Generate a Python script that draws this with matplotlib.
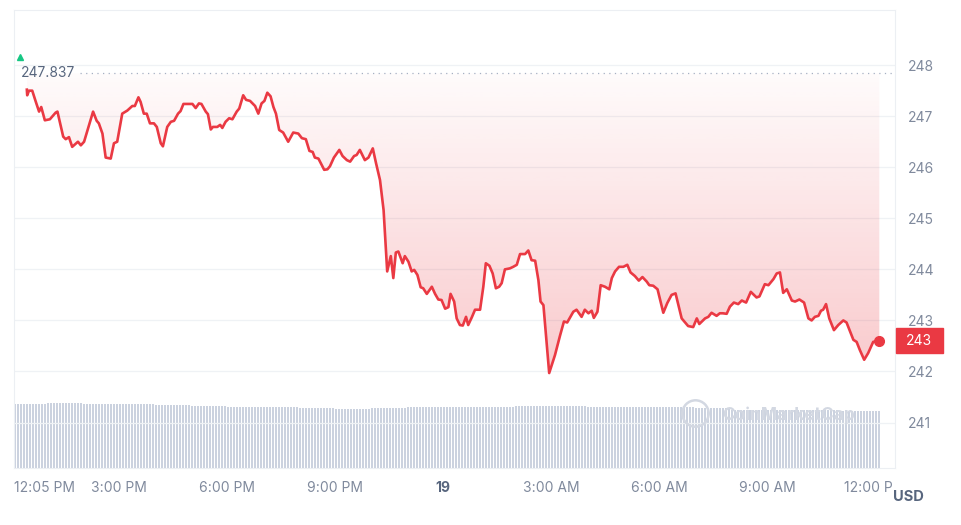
import numpy as np
import matplotlib
matplotlib.use("Agg")
import matplotlib.pyplot as plt
from matplotlib.colors import to_rgb
from matplotlib.patches import Rectangle
from matplotlib.transforms import Bbox, TransformedBbox, blended_transform_factory

plt.rcParams['font.family'] = ['Inter', 'DejaVu Sans']

# hours since 12:00 PM of day 18
hours = [0.44, 0.45, 0.50, 0.59, 0.69, 0.78, 0.84, 0.94, 1.08, 1.24, 1.29, 1.45, 1.52, 1.61, 1.70, 1.86, 1.94, 2.03,
         2.28, 2.38, 2.44, 2.54, 2.63, 2.77, 2.86, 2.95, 3.09, 3.23, 3.37, 3.44, 3.54, 3.60, 3.69, 3.77, 3.86, 3.97,
         4.05, 4.16, 4.22, 4.34, 4.44, 4.53, 4.64, 4.71, 4.79, 4.94, 5.04, 5.13, 5.22, 5.29, 5.41, 5.47, 5.55, 5.61,
         5.73, 5.81, 5.87, 5.96, 6.06, 6.15, 6.27, 6.34, 6.45, 6.53, 6.64, 6.78, 6.87, 6.96, 7.04, 7.12, 7.21, 7.29,
         7.36, 7.45, 7.56, 7.70, 7.84, 7.98, 8.08, 8.19, 8.29, 8.38, 8.44, 8.54, 8.70, 8.79, 8.86, 8.97, 9.12, 9.21,
         9.33, 9.42, 9.53, 9.60, 9.69, 9.83, 9.93, 10.05, 10.14, 10.25, 10.35, 10.45, 10.55, 10.62, 10.69, 10.76,
         10.88, 10.94, 11.04, 11.13, 11.20, 11.29, 11.38, 11.45, 11.55, 11.69, 11.78, 11.87, 11.96, 12.06, 12.15,
         12.21, 12.31, 12.38, 12.47, 12.55, 12.64, 12.70, 12.80, 12.89, 13.03, 13.12, 13.19, 13.29, 13.38, 13.47,
         13.56, 13.63, 13.72, 13.86, 13.95, 14.05, 14.14, 14.28, 14.37, 14.46, 14.56, 14.65, 14.71, 14.79, 14.85,
         14.95, 15.11, 15.25, 15.36, 15.45, 15.62, 15.71, 15.85, 15.94, 16.04, 16.13, 16.19, 16.29, 16.38, 16.50,
         16.62, 16.69, 16.78, 16.89, 17.01, 17.12, 17.21, 17.33, 17.44, 17.54, 17.66, 17.73, 17.84, 17.96, 18.12,
         18.23, 18.35, 18.46, 18.63, 18.81, 18.95, 19.05, 19.12, 19.28, 19.37, 19.46, 19.60, 19.69, 19.77, 19.88,
         19.97, 20.08, 20.20, 20.30, 20.42, 20.55, 20.71, 20.79, 20.94, 21.04, 21.18, 21.27, 21.36, 21.45, 21.55,
         21.69, 21.78, 21.90, 22.03, 22.15, 22.24, 22.33, 22.43, 22.50, 22.56, 22.64, 22.73, 22.86, 22.98, 23.12,
         23.21, 23.40, 23.49, 23.58, 23.70, 23.81, 23.95, 24.12]

price = [247.52, 247.41, 247.50, 247.50, 247.28, 247.09, 247.18, 246.92, 246.94, 247.07, 247.09, 246.60, 246.55,
         246.59, 246.40, 246.50, 246.43, 246.50, 247.09, 246.91, 246.86, 246.66, 246.19, 246.17, 246.47, 246.50,
         247.05, 247.11, 247.20, 247.20, 247.37, 247.28, 247.05, 247.05, 246.86, 246.86, 246.79, 246.47, 246.41,
         246.79, 246.89, 246.91, 247.05, 247.10, 247.24, 247.24, 247.24, 247.16, 247.25, 247.24, 247.09, 247.04,
         246.74, 246.79, 246.79, 246.83, 246.77, 246.89, 246.96, 246.94, 247.09, 247.15, 247.41, 247.32, 247.30,
         247.20, 247.05, 247.25, 247.30, 247.46, 247.39, 247.18, 247.05, 246.73, 246.68, 246.50, 246.68, 246.66,
         246.57, 246.55, 246.32, 246.30, 246.19, 246.17, 245.95, 245.96, 246.02, 246.19, 246.34, 246.22, 246.14,
         246.11, 246.22, 246.24, 246.34, 246.14, 246.19, 246.37, 246.08, 245.75, 245.16, 243.96, 244.26, 243.83,
         244.33, 244.35, 244.12, 244.26, 244.15, 243.96, 243.99, 243.89, 243.65, 243.63, 243.52, 243.66, 243.52,
         243.41, 243.40, 243.23, 243.26, 243.52, 243.37, 243.04, 242.91, 242.90, 243.07, 242.91, 243.06, 243.21,
         243.21, 243.66, 244.12, 244.07, 243.92, 243.63, 243.66, 243.73, 244.00, 244.02, 244.05, 244.09, 244.30,
         244.30, 244.37, 244.18, 244.17, 243.79, 243.37, 243.30, 242.81, 241.97, 242.32, 242.70, 242.98, 242.96,
         243.17, 243.21, 243.07, 243.21, 243.14, 243.19, 243.05, 243.17, 243.69, 243.66, 243.61, 243.83, 243.96,
         244.05, 244.05, 244.09, 243.94, 243.87, 243.78, 243.85, 243.76, 243.69, 243.68, 243.61, 243.15, 243.34,
         243.50, 243.53, 243.04, 242.89, 242.87, 243.04, 242.93, 243.04, 243.07, 243.15, 243.09, 243.14, 243.14,
         243.13, 243.27, 243.35, 243.32, 243.39, 243.35, 243.56, 243.45, 243.47, 243.71, 243.69, 243.81, 243.92,
         243.94, 243.54, 243.61, 243.39, 243.37, 243.41, 243.35, 243.04, 243.00, 243.07, 243.09, 243.19, 243.21,
         243.32, 243.04, 242.81, 242.91, 243.00, 242.96, 242.62, 242.58, 242.42, 242.23, 242.36, 242.58, 242.60]

# volume, read hour by hour (relative units), drawn as 5-minute bars
vol_hourly = [65.0, 65.5, 64.5, 64.5, 64.0, 63.0, 62.0, 61.0, 60.0, 59.0, 60.0, 61.0, 61.5,
              62.0, 62.5, 62.5, 62.0, 61.5, 61.0, 60.0, 58.5, 58.0, 58.0, 57.5, 57.5]

high_price = 247.837
last_label = "243"
tick_pos = [0.0833, 3, 6, 9, 12, 15, 18, 21, 24]
tick_labels = ['12:05 PM', '3:00 PM', '6:00 PM', '9:00 PM', '19', '3:00 AM', '6:00 AM', '9:00 AM', '12:00 PM']
y_ticks = [241, 242, 243, 244, 245, 246, 247, 248]

assert len(hours) == len(price)

RED = '#ea3943'
GRAY = '#808a9d'
DARK = '#58667e'

fig = plt.figure(figsize=(9.62, 5.25), dpi=100)
ax = fig.add_axes([14 / 962, 57 / 525, 881 / 962, 458 / 525])

# volume bars on a twin axis, behind price
axv = ax.twinx()
bar_t = np.arange(0.12, 24.15, 1 / 12)
bar_v = np.array([vol_hourly[int(t)] for t in bar_t])
axv.bar(bar_t, bar_v, width=0.058, color='#cbd2df', linewidth=0)
axv.set_ylim(0, max(vol_hourly) * 7.05)
axv.set_yticks([])
for s in axv.spines.values():
    s.set_visible(False)
ax.set_zorder(2)
axv.set_zorder(1)
ax.patch.set_visible(False)

# gradient fill above the line
rgba = np.zeros((256, 1, 4))
rgba[..., :3] = to_rgb(RED)
rgba[:, 0, 3] = 0.27 - 0.25 * np.linspace(0, 1, 256)
im = ax.imshow(rgba, extent=[hours[0], hours[-1], min(price), high_price], origin='lower',
               aspect='auto', zorder=1, interpolation='bilinear')
poly = ax.fill_between(hours, price, high_price, color='none', linewidth=0)
im.set_clip_path(poly.get_paths()[0], transform=ax.transData)

ax.plot(hours, price, color=RED, lw=1.9, zorder=3, solid_joinstyle='round')
ax.plot(hours[-1], price[-1], 'o', color=RED, ms=7, zorder=4)

# high marker + dotted line
ax.axhline(high_price, xmin=0.075, xmax=1, color='#a6b0c3', lw=0.9, ls=(0, (1, 3.5)), zorder=2)
ax.annotate(f'{high_price:.3f}', xy=(0.0833, high_price), xytext=(5, 0), textcoords='offset points',
            ha='left', va='center', fontsize=10, color=DARK)
ax.plot([0.25], [high_price], marker='^', color='#16c784', ms=4.5, ls='none',
        transform=ax.transData + matplotlib.transforms.ScaledTranslation(0, 11.5 / 72, fig.dpi_scale_trans),
        clip_on=False, zorder=5)

ax.set_xlim(0.0833, 24.556)
ax.set_ylim(240.11, 249.08)

ax.yaxis.tick_right()
ax.set_yticks(y_ticks)
ax.set_yticklabels([str(v) for v in y_ticks])
ax.tick_params(axis='y', length=0, pad=9.5, labelsize=10, labelcolor=GRAY)
ax.set_xticks(tick_pos)
ax.set_xticklabels(tick_labels)
ax.tick_params(axis='x', length=0, pad=9, labelsize=10, labelcolor=GRAY)
xl = ax.get_xticklabels()
xl[0].set_ha('left')
xl[4].set_fontweight('bold')
xl[4].set_color(DARK)
xl[-1].set_clip_box(TransformedBbox(Bbox([[0, 0], [893 / 962, 1]]), fig.transFigure))
xl[-1].set_clip_on(True)

ax.grid(axis='y', color='#eff2f5', lw=0.9)
ax.set_axisbelow(True)
for s in ax.spines.values():
    s.set_color('#eceff3')
    s.set_linewidth(0.8)

# current price tag
tr = blended_transform_factory(ax.transAxes, ax.transData)
ax.add_patch(Rectangle((1.001, price[-1] - 0.245), 47 / 881, 0.49, transform=tr,
                       color=RED, clip_on=False, zorder=5))
ax.text(1.001 + 23.5 / 881, price[-1], last_label, transform=tr, ha='center', va='center',
        fontsize=10, color='white', zorder=6, clip_on=False)

# watermark
ax.plot([0.773], [0.12], marker='o', ms=19, mfc='none', mec='#d3d8e2', mew=1.8,
        transform=ax.transAxes, zorder=2)
ax.text(0.804, 0.115, 'CoinMarketCap', transform=ax.transAxes, fontsize=12.5, fontweight='bold',
        color='#d3d8e2', va='center', ha='left', zorder=2)

fig.text(893 / 962, 1 - 497 / 525, 'USD', ha='left', va='center', fontsize=10.5,
         fontweight='bold', color=DARK)

fig.savefig('out.png', dpi=100)
